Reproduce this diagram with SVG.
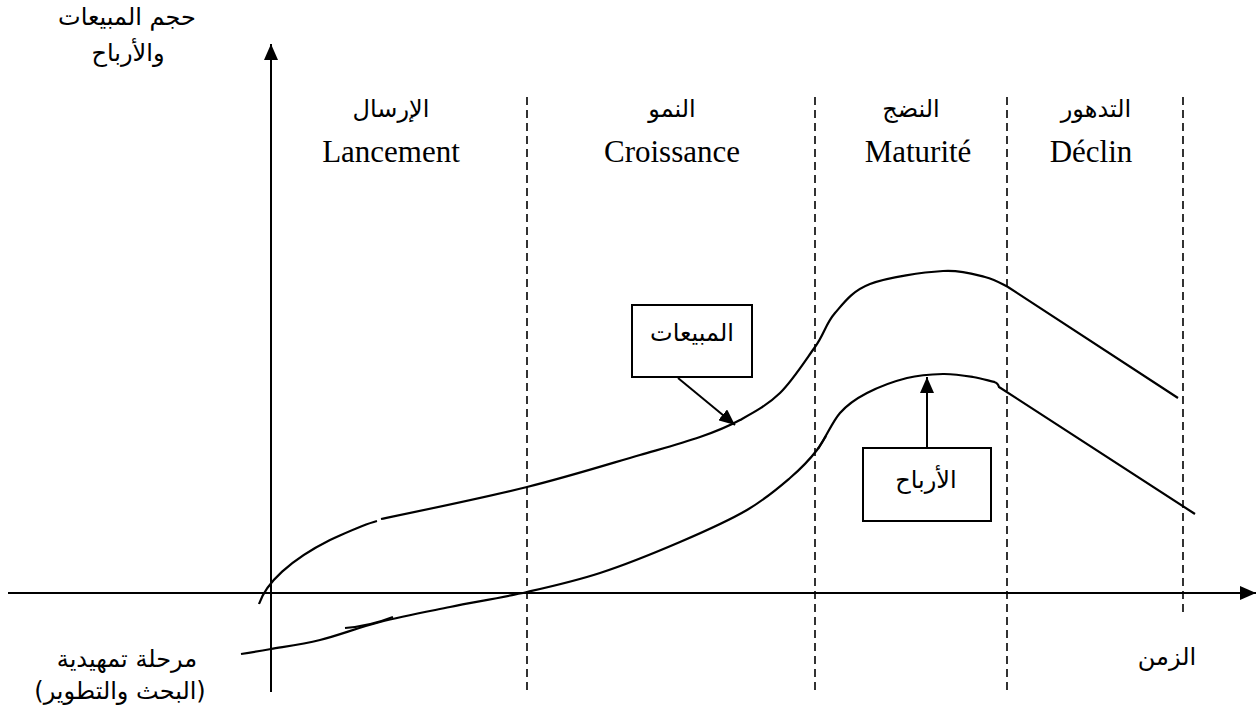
<svg xmlns="http://www.w3.org/2000/svg" width="1260" height="710" viewBox="0 0 1260 710">
  <style>
    .ar { font-family: "DejaVu Sans", "Liberation Sans", sans-serif; font-size: 24px; fill: #000; text-anchor: middle; direction: rtl; }
    .lat { font-family: "Liberation Serif", serif; font-size: 31px; fill: #000; text-anchor: middle; }
    .axis { stroke: #000; stroke-width: 2; fill: none; }
    .phase { stroke: #000; stroke-width: 1.6; stroke-dasharray: 8 5; fill: none; }
    .curve { stroke: #000; stroke-width: 2.2; fill: none; stroke-linecap: butt; }
    .box { stroke: #000; stroke-width: 2; fill: #fff; }
    .ptr { stroke: #000; stroke-width: 2; fill: none; }
  </style>
  <defs>
    <marker id="tip" viewBox="0 0 16 14" refX="16" refY="7" markerWidth="16" markerHeight="14" markerUnits="userSpaceOnUse" orient="auto">
      <path d="M0,0 L16,7 L0,14 Z" fill="#000"/>
    </marker>
  </defs>

  <rect width="1260" height="710" fill="#fff"/>

  <!-- axes -->
  <g id="axes">
    <line class="axis" x1="271" y1="692" x2="271" y2="44" marker-end="url(#tip)"/>
    <line class="axis" x1="8" y1="593" x2="1256" y2="593" marker-end="url(#tip)"/>
  </g>

  <!-- phase boundaries -->
  <g id="phase-lines">
    <line class="phase" x1="527" y1="97" x2="527" y2="692"/>
    <line class="phase" x1="815" y1="97" x2="815" y2="692"/>
    <line class="phase" x1="1007" y1="97" x2="1007" y2="692"/>
    <line class="phase" x1="1183" y1="97" x2="1183" y2="617"/>
  </g>

  <!-- axis labels -->
  <g id="y-label">
    <text class="ar" x="127" y="25">حجم المبيعات</text>
    <text class="ar" x="128" y="61">والأرباح</text>
  </g>
  <g id="x-label">
    <text class="ar" x="1167" y="665">الزمن</text>
  </g>
  <g id="pre-phase">
    <text class="ar" x="127" y="667">مرحلة تمهيدية</text>
    <text class="ar" x="120" y="699">(البحث والتطوير)</text>
  </g>

  <!-- phase titles -->
  <g id="phase-launch">
    <text class="ar" x="391" y="117">الإرسال</text>
    <text class="lat" x="391" y="162">Lancement</text>
  </g>
  <g id="phase-growth">
    <text class="ar" x="672" y="117">النمو</text>
    <text class="lat" x="672" y="162">Croissance</text>
  </g>
  <g id="phase-maturity">
    <text class="ar" x="911" y="117">النضج</text>
    <text class="lat" x="918" y="162">Maturité</text>
  </g>
  <g id="phase-decline">
    <text class="ar" x="1096" y="117">التدهور</text>
    <text class="lat" x="1091" y="162">Déclin</text>
  </g>

  <!-- curves -->
  <g id="sales-curve">
    <path class="curve" d="M259,604 C266,583 290,560 330,540 C348,532 362,525 377,521"/>
    <path class="curve" d="M381,519 C405,514 483.5,497.8 527,487 C570.5,476.2 611.2,463.3 640,455 C668.8,446.7 683.3,442.8 700,437 C716.7,431.2 726.7,427.3 740,420 C753.3,412.7 767.5,405.2 780,393 C792.5,380.8 805.8,359.8 815,347 C824.2,334.2 825.8,323.5 835,313 C844.2,302.5 852,291 870,284 C888,277 923.8,272.2 943,271 C962.2,269.8 974.2,274.3 985,277 C995.8,279.7 1004.2,285.3 1008,287 L1178,398"/>
  </g>
  <g id="profit-curve">
    <path class="curve" d="M241,654 C246,653.2 257.8,651.3 271,649 C284.2,646.7 301.8,644.5 320,640 C338.2,635.5 358.3,627.5 380,622 C401.7,616.5 425.5,612 450,607 C474.5,602 502,597.7 527,592 C552,586.3 574.5,581.3 600,573 C625.5,564.7 655.5,552.5 680,542 C704.5,531.5 728.7,520.7 747,510 C765.3,499.3 778.3,488 790,478 C801.7,468 808.7,460.8 817,450 C825.3,439.2 831.7,422.5 840,413 C848.3,403.5 855.8,398.8 867,393 C878.2,387.2 894.3,381.2 907,378 C919.7,374.8 932,374.2 943,374 C954,373.8 964,375.5 973,377 C982,378.5 993,382 995,382"/>
    <path class="curve" d="M994,382 Q998,383 999,387 L1195,514"/>
    <path class="curve" d="M345,628 Q370,626 393,617"/>
    <path class="curve" d="M818,449 L826,436"/>
  </g>

  <!-- callout boxes -->
  <g id="sales-box">
    <rect class="box" x="632" y="305" width="120" height="72"/>
    <text class="ar" x="692" y="341">المبيعات</text>
  </g>
  <g id="profit-box">
    <rect class="box" x="863" y="448" width="128" height="73"/>
    <text class="ar" x="926" y="488">الأرباح</text>
  </g>

  <!-- pointers -->
  <g id="connectors">
    <line class="ptr" x1="678" y1="378" x2="735" y2="425" marker-end="url(#tip)"/>
    <line class="ptr" x1="927" y1="448" x2="927" y2="377" marker-end="url(#tip)"/>
  </g>
</svg>
